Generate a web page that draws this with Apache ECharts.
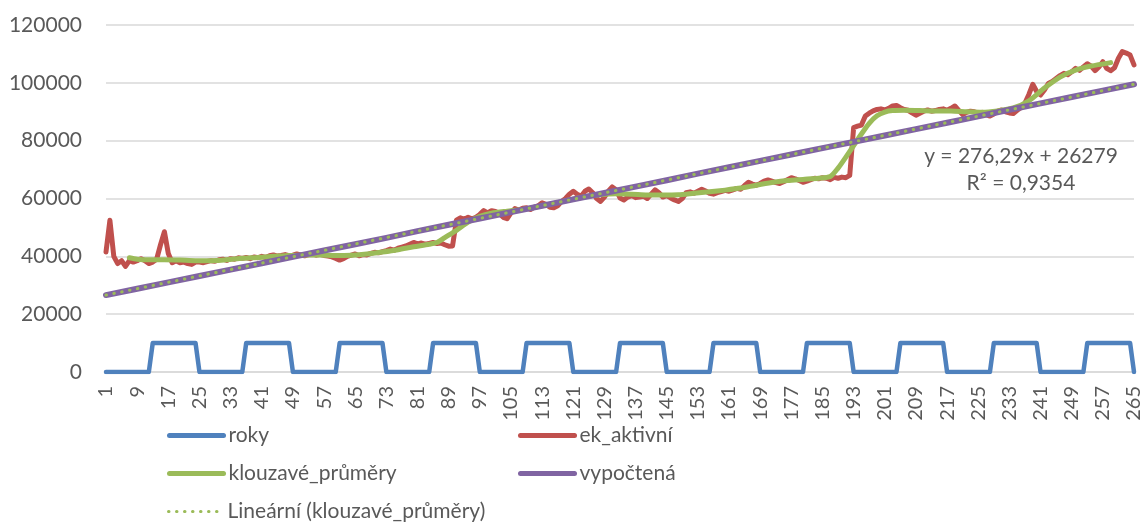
<!DOCTYPE html>
<html><head><meta charset="utf-8">
<script src="https://cdn.jsdelivr.net/npm/echarts@6/dist/echarts.min.js"></script>
<style>html,body{margin:0;padding:0;background:#fff}#c{width:1144px;height:523px}</style>
</head><body><div id="c"></div>
<script>
// Categories 1..265 (period index)
const categories = Array.from({length: 265}, (_, i) => String(i + 1));
const yTicks = [0, 20000, 40000, 60000, 80000, 100000, 120000];

// roky: square wave, [x, value] at transitions
const roky = [
  [1,0],[12,0],[13,10000],[24,10000],[25,0],[36,0],[37,10000],[48,10000],[49,0],[60,0],
  [61,10000],[72,10000],[73,0],[84,0],[85,10000],[96,10000],[97,0],[108,0],[109,10000],[120,10000],
  [121,0],[132,0],[133,10000],[144,10000],[145,0],[156,0],[157,10000],[168,10000],[169,0],[180,0],
  [181,10000],[192,10000],[193,0],[204,0],[205,10000],[216,10000],[217,0],[228,0],[229,10000],[240,10000],
  [241,0],[252,0],[253,10000],[264,10000],[265,0]
];

// ek_aktivní (thousands), x = 1..265
const ekAktivni = [
  41.5,52.5,40,37.5,38.5,36.5,38.5,38,
  38.5,39.2,38.5,37.5,38,39,44,48.5,
  41,37.8,38.5,37.8,38,37.5,37.2,38,
  38,37.8,38.2,38.5,38.3,38.8,39,38.6,
  39.2,39,39.5,39.3,39.6,39.2,39.8,39.5,
  40,39.6,40.2,40.5,40.1,40.3,40.6,40.2,
  40.4,40.8,40.5,40.2,40.6,40.9,40.4,40.7,
  40.3,40.1,39.8,39.3,38.7,39.2,40,40.4,
  40.8,40.2,40.6,40.5,41,41.4,41.2,41.6,
  42,42.5,42.1,42.8,43.2,43.6,44.2,44.8,
  44.3,44.6,44.2,44.5,44.8,44.4,44.6,44,
  43.5,43.6,52.5,53.3,52.8,53.5,53,53.5,
  54.5,55.8,55,55.8,55.5,54.8,53.5,53,
  55,56.5,56,56.6,56.8,56.2,57,57.5,
  58.5,58,57,56.8,57.5,59,60,61.5,
  62.5,61.5,60.8,62.5,63.3,62,60,59,
  60.5,62.5,64,63,60.2,59.5,60.5,61,
  60.3,60.5,60.8,60,61.5,63,62,60.5,
  61,60.2,59.5,59,60,62,62.3,61.8,
  62.5,63.2,62.6,61.8,61.5,62,62.4,62.8,
  62.5,63,63.5,63.2,64.5,65.6,65,64.6,
  65.2,66,66.4,66,65.5,65.2,65.8,66.5,
  67.2,66.8,66.2,65.6,66,66.5,67,66.8,
  67.2,67,66.5,67.3,67,67.4,67.2,68,
  84.5,85,85.4,88.5,89.5,90.3,90.8,91,
  90.6,91.2,92,92.2,91.4,90.8,90.5,89.6,
  88.8,89.5,90.2,90.6,90.2,90.4,90.8,91,
  90.5,91.2,92,90.5,89,89.8,90.2,90,
  89.5,89.8,89,88.5,89.2,90.2,90.6,90,
  89.6,89.4,90.5,91.5,93,96,99.5,97,
  95.8,97.5,99.8,100.5,101.5,102.5,103.3,102.8,
  103.8,105,104.3,105.5,106.6,105.8,104.2,105.5,
  107.3,105,104.2,105.2,108.5,110.8,110.3,109.6,
  106.2
];

// klouzavé_průměry (thousands), [x, value]
const klouzave = [
  [7,39.5],[9,39.0],[12,38.8],[16,38.8],[20,38.7],[24,38.5],[28,38.5],[32,38.8],[36,39.3],
  [40,39.6],[44,40.0],[48,40.3],[52,40.5],[56,40.5],[60,40.3],[64,40.4],[68,40.8],[72,41.5],
  [76,42.3],[80,43.3],[84,44.2],[86,44.8],[88,46.5],[91,49],[94,51.8],[97,53.8],[100,54.9],
  [104,55.6],[108,56.2],[112,57.2],[116,58.3],[120,59.5],[124,60.6],[128,61.3],[132,61.6],
  [136,61.5],[140,61.2],[144,61.2],[148,61.3],[152,61.8],[156,62.3],[160,62.9],[164,63.6],
  [168,64.6],[172,65.5],[176,66.2],[180,66.6],[184,67.0],[187,67.6],[189,70.5],[191,74.3],
  [193,78.3],[195,82.3],[197,86],[199,88.6],[201,89.9],[203,90.4],[206,90.5],[210,90.4],
  [214,90.3],[218,90.3],[222,90.0],[226,89.8],[230,90.3],[234,91.3],[238,93.8],[242,98.2],
  [246,102.0],[250,104.4],[254,105.8],[259,107.0]
];

// vypočtená (thousands), [x, value]
const vypoctena = [
  [1,26.6],[9,28.8],[17,31.0],[25,33.2],[33,35.4],[41,37.6],[49,39.8],[57,42.0],[65,44.2],
  [73,46.4],[81,48.7],[89,50.9],[97,53.1],[105,55.3],[113,57.5],[121,59.7],[129,61.9],
  [137,64.1],[145,66.3],[153,68.6],[161,70.8],[169,73.0],[177,75.2],[185,77.4],[193,79.6],
  [201,81.8],[209,84.0],[217,86.2],[225,88.4],[233,90.7],[241,92.9],[249,95.1],[257,97.3],[265,99.5]
];

// Lineární (klouzavé_průměry) trendline endpoints (thousands)
const trend = [[1,26.6],[265,99.5]];
const trendText = ['y = 276,29x + 26279', 'R\u00B2 = 0,9354'];

const K = 1000;
const font = 'Lato, "Liberation Sans", sans-serif';
const grey = '#595959';

const chart = echarts.init(document.getElementById('c'), null, {renderer: 'canvas'});
const legendBase = {
  itemWidth: 54, itemHeight: 14, itemGap: 4,
  itemStyle: {opacity: 0},
  textStyle: {fontSize: 21, color: grey, fontFamily: font},
  padding: 0
};
const mkLegend = (name, left, top, lineStyle) =>
  Object.assign({data: [name], left: left, top: top, lineStyle: lineStyle}, legendBase);

chart.setOption({
  animation: false,
  backgroundColor: '#fff',
  grid: {left: 106, right: 10, top: 25, bottom: 151, containLabel: false},
  xAxis: {
    type: 'category', data: categories, boundaryGap: false,
    axisLine: {lineStyle: {color: '#D9D9D9', width: 1.5}},
    axisTick: {show: false},
    axisLabel: {interval: 7, rotate: 90, margin: 14, fontSize: 20, color: grey, fontFamily: font}
  },
  yAxis: {
    type: 'value', min: yTicks[0], max: yTicks[yTicks.length - 1], interval: 20000,
    axisLine: {show: false}, axisTick: {show: false},
    axisLabel: {margin: 24, fontSize: 21, color: grey, fontFamily: font, formatter: v => String(v)},
    splitLine: {lineStyle: {color: '#D9D9D9', width: 1.5}}
  },
  legend: [
    mkLegend('roky', 167, 425, {width: 5}),
    mkLegend('ek_aktivní', 518, 425, {width: 5}),
    mkLegend('klouzavé_průměry', 167, 463, {width: 5}),
    mkLegend('vypočtená', 518, 463, {width: 5}),
    mkLegend('Lineární (klouzavé_průměry)', 167, 501, {width: 3})
  ],
  graphic: [
    {type: 'text', x: 1021, y: 156, style: {text: trendText[0], font: '21px ' + font, fill: grey, align: 'center', verticalAlign: 'middle'}},
    {type: 'text', x: 1021, y: 183, style: {text: trendText[1], font: '21px ' + font, fill: grey, align: 'center', verticalAlign: 'middle'}}
  ],
  series: [
    {name: 'roky', type: 'line', data: roky.map(p => [String(p[0]), p[1]]), symbol: 'none',
      lineStyle: {color: '#4F81BD', width: 4.5, join: 'round', cap: 'round'}, itemStyle: {color: '#4F81BD'}, z: 2},
    {name: 'ek_aktivní', type: 'line', data: ekAktivni.map(v => v * K), symbol: 'none',
      lineStyle: {color: '#C0504D', width: 5, join: 'round', cap: 'round'}, itemStyle: {color: '#C0504D'}, z: 3},
    {name: 'klouzavé_průměry', type: 'line', data: klouzave.map(p => [String(p[0]), p[1] * K]), symbol: 'none',
      smooth: 0.25, lineStyle: {color: '#9BBB59', width: 5, join: 'round', cap: 'round'}, itemStyle: {color: '#9BBB59'}, z: 4},
    {name: 'vypočtená', type: 'line', data: vypoctena.map(p => [String(p[0]), p[1] * K]), symbol: 'none',
      lineStyle: {color: '#8064A2', width: 6, join: 'round', cap: 'round'}, itemStyle: {color: '#8064A2'}, z: 5},
    {name: 'Lineární (klouzavé_průměry)', type: 'line', data: trend.map(p => [String(p[0]), p[1] * K]), symbol: 'none',
      lineStyle: {color: '#9BBB59', width: 3, type: [0.5, 7.5], cap: 'round'}, itemStyle: {color: '#9BBB59'}, z: 6}
  ]
});
</script>
</body></html>
